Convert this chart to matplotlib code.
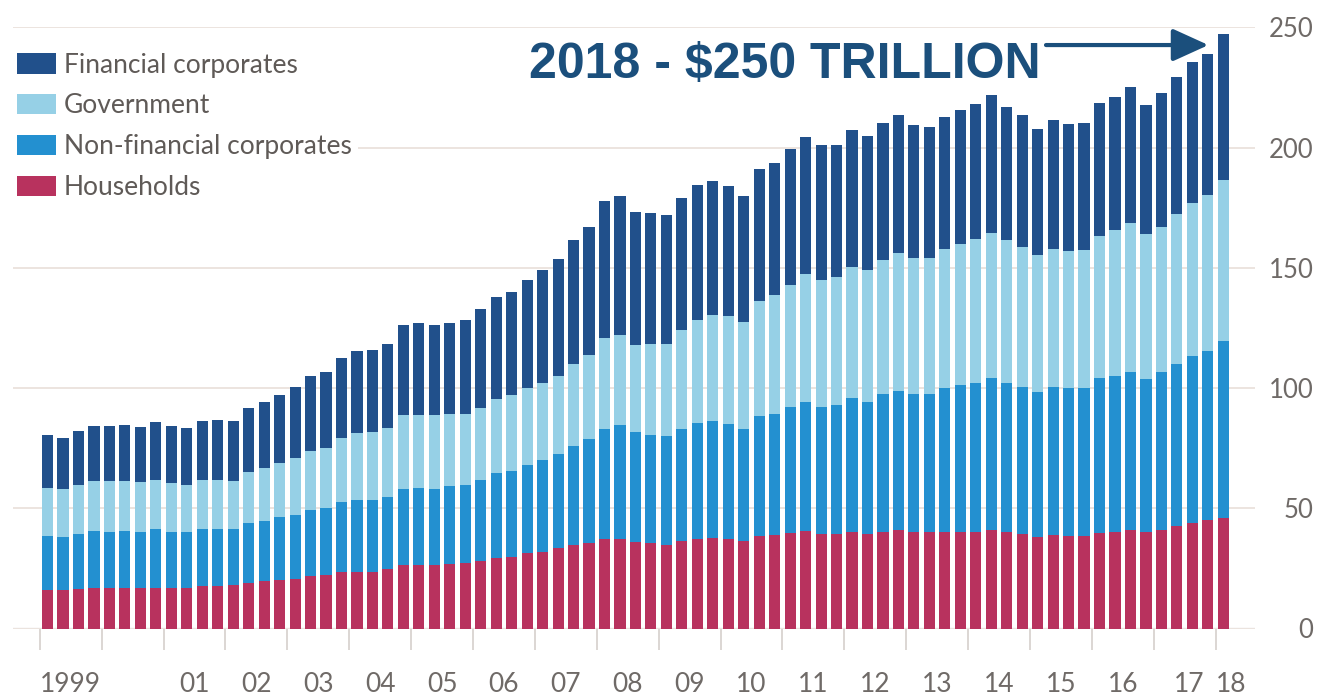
import numpy as np
import matplotlib
matplotlib.use('Agg')
import matplotlib.pyplot as plt

# global debt by sector, $tn, quarterly 1999 Q1 - 2018 Q1
households = [16.2, 16.0, 16.6, 16.9, 17.0, 17.0, 17.0, 17.0, 17.0, 17.0,
              17.8, 17.8, 17.9, 19.1, 19.6, 20.1, 20.5, 21.7, 22.2, 23.5,
              23.7, 23.7, 24.7, 26.5, 26.2, 26.2, 26.9, 27.2, 28.1, 29.5,
              29.8, 31.2, 31.9, 33.3, 34.8, 35.5, 37.4, 37.4, 36.0, 35.6,
              34.7, 36.3, 37.2, 37.5, 37.2, 36.4, 38.3, 38.7, 39.8, 40.5,
              39.3, 39.3, 40.1, 39.3, 40.2, 40.8, 40.2, 40.0, 40.2, 40.2,
              40.2, 41.0, 40.2, 39.3, 38.2, 39.0, 38.5, 38.5, 39.7, 40.2,
              41.0, 40.2, 41.0, 42.6, 43.8, 45.1, 45.9]
non_financial = [22.3, 22.2, 22.7, 23.7, 23.3, 23.6, 23.3, 24.2, 23.3, 23.0,
                 23.4, 23.5, 23.3, 24.7, 25.3, 26.2, 26.7, 27.4, 27.8, 29.2,
                 29.7, 29.7, 30.1, 31.7, 32.3, 32.0, 32.3, 32.3, 33.5, 35.0,
                 35.5, 36.6, 38.0, 39.2, 41.1, 43.5, 45.7, 47.1, 45.6, 44.9,
                 45.3, 46.8, 48.3, 48.7, 47.9, 46.7, 50.2, 50.5, 52.2, 53.8,
                 53.0, 53.5, 55.7, 55.0, 57.2, 57.8, 57.5, 57.6, 59.8, 61.0,
                 61.8, 63.0, 61.8, 61.1, 60.1, 61.4, 61.4, 61.5, 64.3, 64.7,
                 65.5, 63.5, 65.5, 67.2, 69.3, 70.2, 73.8]
government = [19.9, 19.8, 20.5, 20.6, 20.9, 20.9, 20.5, 20.7, 20.2, 19.8,
              20.7, 20.6, 20.3, 21.3, 21.9, 22.5, 23.7, 24.9, 25.2, 26.4,
              28.0, 28.4, 28.4, 30.7, 30.1, 30.4, 30.1, 29.8, 30.1, 31.1,
              31.6, 32.2, 32.0, 32.5, 33.9, 34.6, 37.7, 37.7, 36.4, 37.6,
              38.4, 40.9, 42.9, 44.2, 44.8, 44.5, 47.7, 49.6, 51.0, 53.0,
              52.7, 53.3, 54.6, 54.8, 56.0, 57.6, 56.2, 56.5, 57.6, 58.6,
              59.8, 60.4, 59.5, 58.1, 56.9, 57.2, 56.9, 57.3, 59.4, 60.7,
              62.0, 60.2, 60.4, 62.7, 63.7, 64.8, 66.8]
financial = [21.9, 21.2, 22.3, 23.2, 23.0, 23.2, 22.9, 23.9, 23.9, 23.7,
             24.4, 24.6, 24.8, 26.7, 27.4, 28.2, 29.7, 30.8, 31.6, 33.4,
             34.0, 34.0, 35.2, 37.4, 38.5, 37.7, 37.8, 39.0, 41.0, 42.4,
             43.0, 44.9, 47.3, 48.8, 51.6, 53.5, 57.0, 57.8, 55.0, 54.8,
             53.4, 54.8, 55.8, 55.6, 54.0, 52.3, 54.9, 54.9, 56.5, 57.1,
             56.0, 54.9, 56.8, 55.8, 56.6, 57.2, 55.6, 54.5, 55.0, 55.6,
             56.1, 57.6, 55.5, 54.9, 52.4, 53.7, 53.0, 52.8, 55.0, 55.2,
             56.5, 53.6, 55.6, 56.9, 58.9, 58.9, 60.6]
year_labels = ['1999', '', '01', '02', '03', '04', '05', '06', '07', '08',
               '09', '10', '11', '12', '13', '14', '15', '16', '17', '18']

colors = {'Households': '#b8325e', 'Non-financial corporates': '#2390d0',
          'Government': '#96d0e6', 'Financial corporates': '#21508b'}

plt.rcParams['font.family'] = ['Lato', 'DejaVu Sans']

fig = plt.figure(figsize=(13.27, 6.96), dpi=100)
ax = fig.add_axes([13 / 1327, (696 - 628.5) / 696, (1255 - 13) / 1327, (628.5 - 27.25) / 696])

x = np.arange(len(households))
w = 0.72
bottom = np.zeros(len(x))
for name, vals in [('Households', households), ('Non-financial corporates', non_financial),
                   ('Government', government), ('Financial corporates', financial)]:
    ax.bar(x, vals, width=w, bottom=bottom, align='edge', color=colors[name],
           label=name, zorder=2)
    bottom = bottom + np.array(vals)

ax.set_xlim(-1.875, 78.41)
ax.set_ylim(0, 250)

for s in ax.spines.values():
    s.set_visible(False)

# year ticks
ax.set_xticks(np.arange(0, 77, 4) - 0.14)
ax.set_xticklabels([])
ax.tick_params(axis='x', which='major', length=15, width=1.2, color='#d6d0cc')
lab_pos = list(np.arange(0, 72, 4) + 1.86) + [72 + 1.86 + 0.3, 76.9]
ax.set_xticks(lab_pos, minor=True)
ax.set_xticklabels(year_labels, minor=True)
ax.tick_params(axis='x', which='minor', length=0, pad=31, labelsize=19, labelcolor='#6f6a67')

ax.yaxis.tick_right()
ax.set_yticks(range(0, 251, 50))
ax.tick_params(axis='y', length=0, pad=42, labelsize=18.5, labelcolor='#6f6a67')
for t in ax.get_yticklabels():
    t.set_horizontalalignment('right')
ax.grid(axis='y', color='#ece4df', lw=1.4, zorder=0)
ax.axhline(0, color='#d3cdc9', lw=1.6, zorder=1)

h, l = ax.get_legend_handles_labels()
leg = ax.legend(h[::-1], l[::-1], loc='upper left', bbox_to_anchor=(10 / 1327, 1 - 46 / 696),
                bbox_transform=fig.transFigure, frameon=True, fancybox=False,
                fontsize=19, handlelength=1.48, handleheight=0.8, handletextpad=0.3,
                labelspacing=0.6, borderpad=0.25, borderaxespad=0)
leg.get_frame().set_facecolor('white')
leg.get_frame().set_edgecolor('none')
leg.get_frame().set_alpha(1)
leg.set_zorder(5)
for t in leg.get_texts():
    t.set_color('#5f5a57')

ax.text(31.5, 228.9, '2018 - $250 TRILLION', fontsize=36, fontweight='bold',
        family='Liberation Sans', color='#1b4f7c', ha='left', va='baseline', zorder=6)
ax.annotate('', xy=(75.4, 242.6), xytext=(64.9, 242.6),
            arrowprops=dict(arrowstyle='-|>,head_length=22,head_width=10', mutation_scale=1,
                            lw=3, color='#1b4f7c', shrinkA=0, shrinkB=0), zorder=6)

fig.savefig('out.png', dpi=100, facecolor='white')
